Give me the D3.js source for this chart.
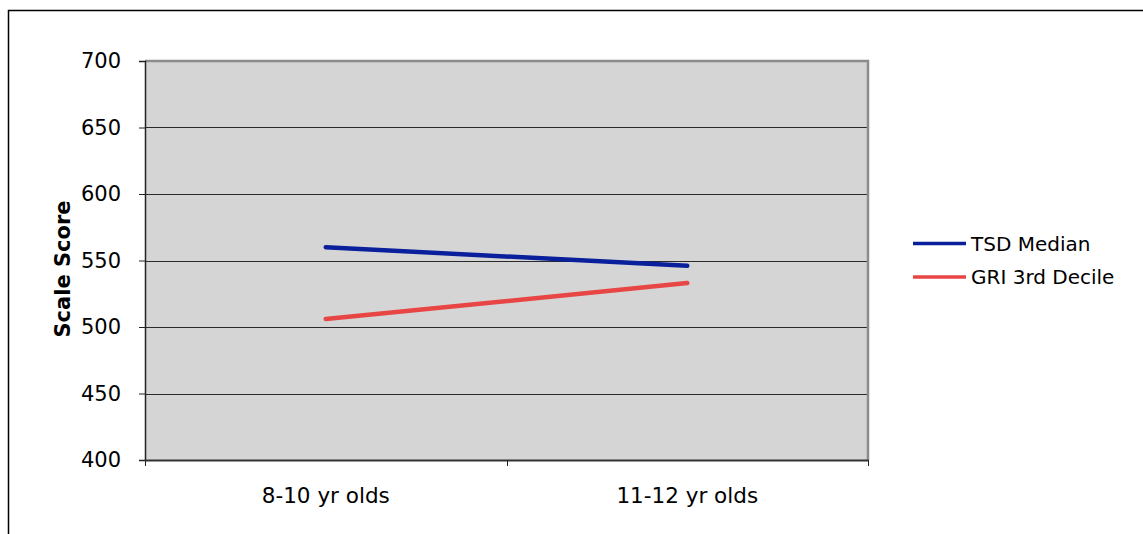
<!DOCTYPE html>
<html>
<head>
<meta charset="utf-8">
<script src="https://cdn.jsdelivr.net/npm/d3@7"></script>
<style>
  html, body { margin: 0; padding: 0; background: #fff; }
  svg { display: block; font-family: "DejaVu Sans", Verdana, sans-serif; }
</style>
</head>
<body>
<svg id="chart" width="1143" height="534"></svg>
<script>
// Age groups along the x axis
const categories = ["8-10 yr olds", "11-12 yr olds"];
// Scale scores for each series
const tsdMedian = [560, 546];
const gri3rdDecile = [506, 533];
const seriesNames = ["TSD Median", "GRI 3rd Decile"];
const seriesColors = ["#0a1f9c", "#e84545"];
// Y axis ticks
const yTicks = [400, 450, 500, 550, 600, 650, 700];

const series = [
  { name: seriesNames[0], color: seriesColors[0], values: tsdMedian },
  { name: seriesNames[1], color: seriesColors[1], values: gri3rdDecile }
];

const svg = d3.select("#chart");
const plot = { left: 145, top: 61, right: 868, bottom: 460 };
const font = "DejaVu Sans, Verdana, sans-serif";

// Outer chart frame (left and top edges visible)
svg.append("path")
  .attr("d", "M8.5,534 V10.5 H1143")
  .attr("fill", "none").attr("stroke", "#000").attr("stroke-width", 1.5);

const x = d3.scaleBand().domain(categories).range([plot.left, plot.right]).padding(0);
const y = d3.scaleLinear().domain([400, 700]).range([plot.bottom, plot.top]);

// Plot area background
svg.append("rect")
  .attr("x", plot.left).attr("y", plot.top)
  .attr("width", plot.right - plot.left).attr("height", plot.bottom - plot.top)
  .attr("fill", "#d5d5d5");

// Grid lines
svg.append("g").selectAll("line")
  .data(yTicks.filter(d => d > 400 && d < 700))
  .join("line")
  .attr("x1", plot.left).attr("x2", plot.right)
  .attr("y1", d => Math.round(y(d)) + 0.5).attr("y2", d => Math.round(y(d)) + 0.5)
  .attr("stroke", "#2a2a2a").attr("stroke-width", 1);

// Plot border on top and right
svg.append("path")
  .attr("d", `M${plot.left},${plot.top} H${plot.right} V${plot.bottom}`)
  .attr("fill", "none").attr("stroke", "#8c8c8c").attr("stroke-width", 2.5);

// Y axis
const yAxis = svg.append("g")
  .attr("transform", `translate(${plot.left},0)`)
  .call(d3.axisLeft(y).tickValues(yTicks).tickSize(6).tickPadding(18).tickFormat(d3.format("d")));
yAxis.select(".domain").attr("stroke", "#222").attr("stroke-width", 1.5);
yAxis.selectAll(".tick line").attr("stroke", "#222");
yAxis.selectAll(".tick text")
  .attr("font-size", 21).attr("fill", "#000")
  .attr("font-family", font);

// X axis with ticks at category boundaries
const xAxis = svg.append("g")
  .attr("transform", `translate(0,${plot.bottom})`)
  .call(d3.axisBottom(x).tickSize(0).tickPadding(28));
xAxis.select(".domain").attr("stroke", "#333").attr("stroke-width", 2);
xAxis.selectAll(".tick text")
  .attr("font-size", 21.5).attr("fill", "#000")
  .attr("font-family", font);
const boundaries = categories.map(c => x(c)).concat([x(categories[categories.length - 1]) + x.bandwidth()]);
svg.append("g").selectAll("line")
  .data(boundaries)
  .join("line")
  .attr("x1", d => Math.round(d) + 0.5).attr("x2", d => Math.round(d) + 0.5)
  .attr("y1", plot.bottom).attr("y2", plot.bottom + 6)
  .attr("stroke", "#222");

// Y axis title
svg.append("text")
  .attr("transform", `translate(70,269) rotate(-90)`)
  .attr("text-anchor", "middle")
  .attr("font-size", 21).attr("font-weight", "bold")
  .text("Scale Score");

// Series lines
const line = d3.line()
  .x((d, i) => x(categories[i]) + x.bandwidth() / 2)
  .y(d => y(d));

svg.append("g").selectAll("path")
  .data(series)
  .join("path")
  .attr("d", d => line(d.values))
  .attr("fill", "none")
  .attr("stroke", d => d.color)
  .attr("stroke-width", 4.5)
  .attr("stroke-linecap", "round");

// Legend
const legend = svg.append("g").attr("transform", "translate(913,243.5)");
const item = legend.selectAll("g")
  .data(series)
  .join("g")
  .attr("transform", (d, i) => `translate(0,${i * 33.5})`);
item.append("line")
  .attr("x1", 0).attr("x2", 53).attr("y1", 0).attr("y2", 0)
  .attr("stroke", d => d.color).attr("stroke-width", 3.3);
item.append("text")
  .attr("x", 58).attr("y", 0).attr("dy", "0.35em")
  .attr("font-size", 20)
  .text(d => d.name);
</script>
</body>
</html>
